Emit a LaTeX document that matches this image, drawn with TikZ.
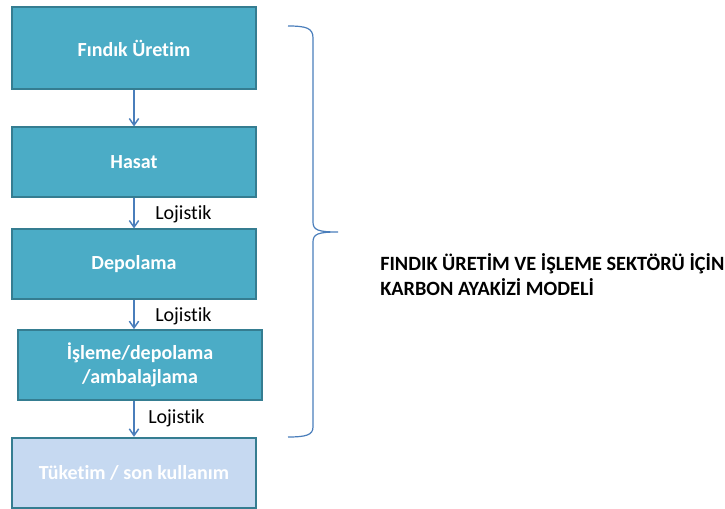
\documentclass[tikz,border=0pt]{standalone}
\usepackage{fontspec}
\setmainfont{Carlito}[Ligatures=NoCommon]
\usetikzlibrary{arrows.meta, positioning}

\definecolor{stagefill}{HTML}{4BACC6}
\definecolor{stageborder}{HTML}{357D91}
\definecolor{endfill}{HTML}{C6D9F1}
\definecolor{flowblue}{HTML}{4A7EBB}

\begin{document}
\begin{tikzpicture}[x=0.75pt, y=-0.75pt,
    % Stage box styles
    stagebox/.style={rectangle, draw=stageborder, fill=stagefill, line width=1.3pt,
                     text=white, font=\bfseries\fontsize{15}{18}\selectfont,
                     minimum width=183pt, align=center, inner sep=0pt},
    endbox/.style={stagebox, fill=endfill},
    % Connector and label styles
    flow/.style={-{Straight Barb[length=5pt, width=7pt]}, draw=flowblue, line width=1.1pt},
    loglabel/.style={font=\fontsize{15}{17}\selectfont, anchor=base west, inner sep=0pt},
    bracestyle/.style={draw=flowblue, line width=0.9pt}
]
\useasboundingbox (0,0) rectangle (725,509);

% Process chain
\node[stagebox, minimum height=62pt] (uretim) at (134,48) {Fındık Üretim};
\node[stagebox, minimum height=52pt] (hasat) at (134,162) {Hasat};
\node[stagebox, minimum height=52pt] (depolama) at (134,264) {Depolama};
\node[stagebox, minimum height=52.5pt] (isleme) at (140,365) {İşleme/depolama\\/ambalajlama};
\node[endbox, minimum height=53pt] (tuketim) at (134,473) {Tüketim / son kullanım};

% Logistics labels
\node[loglabel] (log1) at (155,220) {Lojistik};
\node[loglabel] (log2) at (155,322) {Lojistik};
\node[loglabel] (log3) at (148,424) {Lojistik};

% Connections
\draw[flow] (uretim.south) -- (hasat.north);
\draw[flow] (hasat.south) -- (depolama.north);
\draw[flow] (depolama.south) -- (depolama.south |- isleme.north);
\draw[flow] (tuketim.north |- isleme.south) -- (tuketim.north);

% Brace
\draw[bracestyle] (288,26) .. controls (306,26) and (313,28) .. (313,38) -- (313,222)
    .. controls (313,230) and (318,232) .. (338,232)
    .. controls (318,232) and (313,234) .. (313,242) -- (313,427)
    .. controls (313,435) and (306,437) .. (288,437);

% Title
\node[font=\bfseries\fontsize{15.2}{19.3}\selectfont, align=left, anchor=north west, inner sep=0pt]
    (baslik) at (380,253) {FINDIK ÜRETİM VE İŞLEME SEKTÖRÜ İÇİN\\KARBON AYAKİZİ MODELİ};

\end{tikzpicture}
\end{document}
